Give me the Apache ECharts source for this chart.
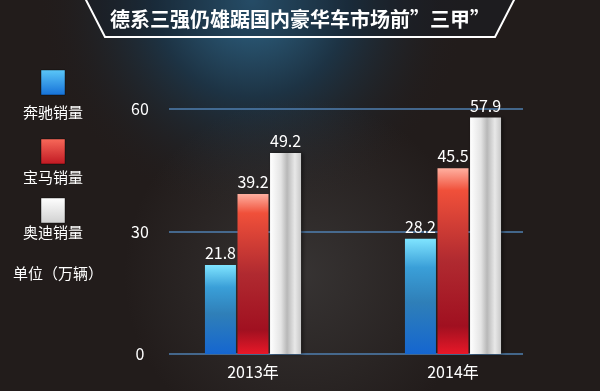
<!DOCTYPE html>
<html><head><meta charset="utf-8">
<script src="https://cdn.jsdelivr.net/npm/echarts@6/dist/echarts.min.js"></script>
<style>html,body{margin:0;padding:0;background:#1e1918}#c{width:600px;height:391px}</style>
</head><body><div id="c"></div>
<script>
var categories = ['2013年', '2014年'];
var benz = [21.8, 28.2];
var bmw = [39.2, 45.5];
var audi = [49.2, 57.9];
var seriesNames = ['奔驰销量', '宝马销量', '奥迪销量'];
var yTicks = [0, 30, 60];
var titleText = '德系三强仍雄踞国内豪华车市场前”三甲”';
var unitText = '单位（万辆）';

var FONT = '"Noto Sans CJK SC", "Noto Sans", sans-serif';
function vg(stops){return {type:'linear',x:0,y:0,x2:0,y2:1,colorStops:stops};}
var blueGrad = vg([{offset:0,color:'#7fe4ff'},{offset:0.25,color:'#3a9fd8'},{offset:0.55,color:'#2f7fb8'},{offset:1,color:'#1566d0'}]);
var redGrad = vg([{offset:0,color:'#ffb0a0'},{offset:0.12,color:'#f0503a'},{offset:0.5,color:'#b02a30'},{offset:0.85,color:'#a01020'},{offset:1,color:'#e81828'}]);
var whiteGrad = {type:'linear',x:0,y:0,x2:1,y2:0,colorStops:[{offset:0,color:'#ffffff'},{offset:0.35,color:'#e4e4e4'},{offset:0.55,color:'#b8b8b8'},{offset:0.8,color:'#e8e8e8'},{offset:1,color:'#c8c8c8'}]};
var legendColors = [
  vg([{offset:0,color:'#5cc8f8'},{offset:1,color:'#1570d8'}]),
  vg([{offset:0,color:'#f86a5a'},{offset:1,color:'#c01822'}]),
  vg([{offset:0,color:'#ffffff'},{offset:1,color:'#d0d0d0'}])
];

var chart = echarts.init(document.getElementById('c'));
var labelStyle = {show:true, position:'top', distance:4, color:'#ffffff', fontSize:16, fontFamily:FONT};
var legendGraphics = [];
var legY = [70, 139, 198];
var legTextY = [112, 177, 232];
for (var i=0;i<3;i++){
  legendGraphics.push({type:'rect', shape:{x:41,y:legY[i],width:24,height:25}, style:{fill:legendColors[i], stroke:'rgba(0,0,0,0.4)', lineWidth:1}, z:10});
  legendGraphics.push({type:'text', x:53, y:legTextY[i], style:{text:seriesNames[i], fill:'#ffffff', font:'15px '+FONT, textAlign:'center', textVerticalAlign:'middle'}, z:10});
}
var option = {
  animation:false,
  backgroundColor:'#221c1b',
  graphic:[
    {type:'rect', shape:{x:0,y:0,width:600,height:391}, style:{fill:{type:'radial',x:0.42,y:0.0,r:0.55,colorStops:[{offset:0,color:'#2f6688'},{offset:0.45,color:'#1d3344'},{offset:1,color:'rgba(34,28,27,0)'}]}}, z:-10},
    {type:'rect', shape:{x:0,y:0,width:600,height:391}, style:{fill:{type:'radial',x:0.5,y:0.7,r:0.45,colorStops:[{offset:0,color:'rgba(80,80,80,0.45)'},{offset:1,color:'rgba(80,80,80,0)'}]}}, z:-9},
    {type:'polygon', shape:{points:[[85,-2],[105,37],[495,37],[515,-2]]}, style:{fill:'rgba(20,30,40,0.35)', stroke:'#ffffff', lineWidth:2}, z:5},
    {type:'text', x:300, y:19, style:{text:titleText, fill:'#ffffff', font:'bold 20px '+FONT, textAlign:'center', textVerticalAlign:'middle'}, z:6},
    {type:'text', x:13, y:273, style:{text:unitText, fill:'#ffffff', font:'15px '+FONT, textAlign:'left', textVerticalAlign:'middle'}, z:10}
  ].concat(legendGraphics),
  grid:[
    {left:153, width:400, top:109, bottom:37},
    {left:169, width:354, top:109, bottom:37}
  ],
  xAxis:[
    {type:'category', gridIndex:0, data:categories, axisLine:{show:false}, axisTick:{show:false},
     axisLabel:{color:'#ffffff', fontSize:16, fontFamily:FONT, margin:10}},
    {type:'category', gridIndex:1, data:categories, show:false}
  ],
  yAxis:[
    {type:'value', gridIndex:0, min:0, max:60, interval:30, splitLine:{show:false}, axisLine:{show:false}, axisTick:{show:false},
     axisLabel:{color:'#ffffff', fontSize:16, fontFamily:FONT, align:'center', margin:13}},
    {type:'value', gridIndex:1, min:0, max:60, interval:30, axisLabel:{show:false}, axisLine:{show:false}, axisTick:{show:false},
     splitLine:{show:true, lineStyle:{color:'#4f7fb0', width:1.5}}}
  ],
  series:[
    {name:seriesNames[0], type:'bar', xAxisIndex:0, yAxisIndex:0, data:benz, barWidth:31, barGap:'5%', itemStyle:{color:blueGrad}, label:labelStyle, z:3},
    {name:seriesNames[1], type:'bar', xAxisIndex:0, yAxisIndex:0, data:bmw, barWidth:31, barGap:'5%', itemStyle:{color:redGrad}, label:labelStyle, z:3},
    {name:seriesNames[2], type:'bar', xAxisIndex:0, yAxisIndex:0, data:audi, barWidth:31, barGap:'5%', itemStyle:{color:whiteGrad, shadowColor:'rgba(0,0,0,0.5)', shadowBlur:4, shadowOffsetX:2}, label:labelStyle, z:3}
  ]
};
chart.setOption(option);
</script></body></html>
